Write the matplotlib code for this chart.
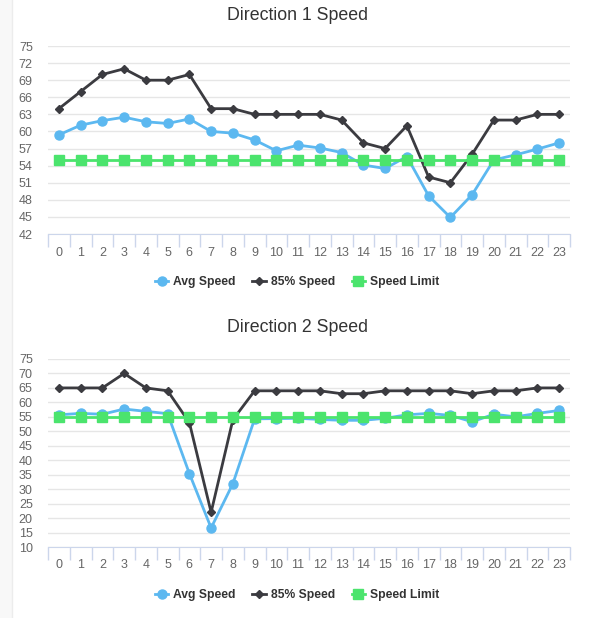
import matplotlib
matplotlib.use("Agg")
import matplotlib.pyplot as plt
from matplotlib.patches import Rectangle
from matplotlib.lines import Line2D

plt.rcParams['font.family'] = ['Liberation Sans', 'DejaVu Sans']

# data
hours = list(range(24))
hour_labels = [str(h) for h in hours]

d1_avg = [59.4, 61.1, 61.9, 62.5, 61.7, 61.4, 62.2, 60.0, 59.7, 58.5, 56.6, 57.6,
          57.1, 56.3, 54.1, 53.5, 55.6, 48.7, 44.9, 48.9, 55.0, 55.9, 56.9, 58.0]
d1_85 = [64, 67, 70, 71, 69, 69, 70, 64, 64, 63, 63, 63,
         63, 62, 58, 57, 61, 52, 51, 56, 62, 62, 63, 63]
d1_limit = [55] * 24

d2_avg = [55.7, 56.2, 55.9, 57.7, 56.9, 56.1, 35.4, 16.6, 31.9, 54.3, 54.4, 54.5,
          54.1, 53.8, 53.8, 54.5, 55.7, 56.2, 55.5, 53.3, 55.9, 55.0, 56.2, 57.2]
d2_85 = [65, 65, 65, 70, 65, 64, 53, 22, 54, 64, 64, 64,
         64, 63, 63, 64, 64, 64, 64, 63, 64, 64, 65, 65]
d2_limit = [55] * 24

d1_ticks = list(range(42, 76, 3))
d2_ticks = list(range(10, 76, 5))

series_names = ['Avg Speed', '85% Speed', 'Speed Limit']

BLUE = '#5cb8f0'
DARK = '#3b3b40'
GREEN = '#4be46d'
GRID = '#e6e6e6'
AXIS = '#ccd6eb'

W, H = 595, 618
fig = plt.figure(figsize=(W / 100, H / 100), dpi=100)

# light strip on the left edge
fig.patches.append(Rectangle((0, 0), 12 / W, 1, transform=fig.transFigure,
                             facecolor='#f8f8f8', edgecolor='none', zorder=0))
fig.lines.append(Line2D([12 / W, 12 / W], [0, 1], transform=fig.transFigure,
                        color='#ececec', lw=1))


def draw(top, title, avg, p85, limit, yticks, title_y):
    left, right, bottom = 48, 570, top + 188
    ax = fig.add_axes([left / W, 1 - bottom / H, (right - left) / W, 188 / H])
    ax.plot(hours, avg, color=BLUE, lw=2, marker='o', ms=6.5, mec=BLUE, zorder=3)
    ax.plot(hours, p85, color=DARK, lw=2, marker='D', ms=4.5, mec=DARK, zorder=4)
    ax.plot(hours, limit, color=GREEN, lw=2, marker='s', ms=6.5, mec=GREEN, zorder=5)

    ax.set_xlim(-0.5, 23.5)
    ax.set_ylim(yticks[0], yticks[-1])
    ax.set_yticks(yticks)
    ax.set_xticks(hours)
    ax.set_xticklabels(hour_labels)
    ax.set_xticks([h - 0.5 for h in hours] + [23.5], minor=True)

    ax.grid(axis='y', color=GRID, lw=1)
    ax.set_axisbelow(True)
    for s in ['top', 'right', 'left']:
        ax.spines[s].set_visible(False)
    ax.spines['bottom'].set_color(AXIS)
    ax.spines['bottom'].set_zorder(6)

    ax.tick_params(axis='y', length=0, pad=11, labelsize=9, labelcolor='#666666')
    ax.tick_params(axis='x', which='major', length=0, pad=9, labelsize=9,
                   labelcolor='#666666')
    ax.tick_params(axis='x', which='minor', length=9, color=AXIS, width=1)

    fig.text(0.5, 1 - title_y / H, title, ha='center', va='center',
             fontsize=12.8, color='#333333')

    handles = [
        Line2D([], [], color=BLUE, lw=2, marker='o', ms=6.5),
        Line2D([], [], color=DARK, lw=2, marker='D', ms=4.5),
        Line2D([], [], color=GREEN, lw=2, marker='s', ms=6.5),
    ]
    leg = ax.legend(handles, series_names, loc='center', ncol=3, frameon=False,
                    bbox_to_anchor=((297 - left) / (right - left), -(48 / 188)),
                    handlelength=1.1, handletextpad=0.4, columnspacing=1.4,
                    prop={'weight': 'bold', 'size': 8.7})
    for t in leg.get_texts():
        t.set_color('#333333')
    return ax


draw(46, 'Direction 1 Speed', d1_avg, d1_85, d1_limit, d1_ticks, 16)
draw(359, 'Direction 2 Speed', d2_avg, d2_85, d2_limit, d2_ticks, 328)

fig.savefig('out.png', dpi=100, facecolor='white')
